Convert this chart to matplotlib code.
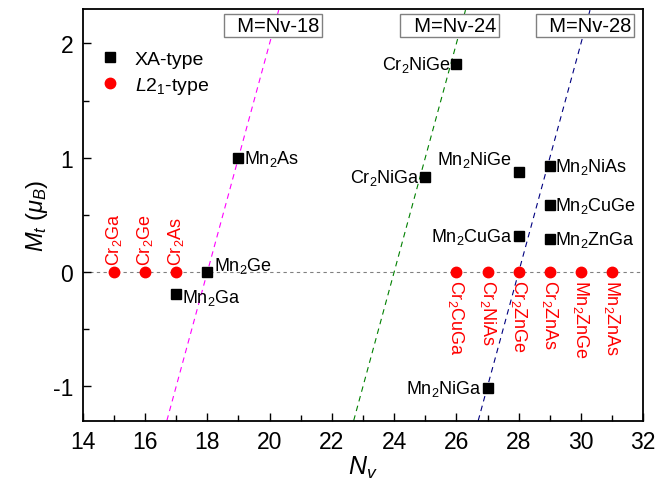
import matplotlib
matplotlib.use('Agg')
import matplotlib.pyplot as plt
from matplotlib.ticker import MultipleLocator

plt.rcParams['font.family'] = ['Liberation Sans', 'DejaVu Sans']
plt.rcParams['mathtext.fontset'] = 'custom'
plt.rcParams['mathtext.rm'] = 'Liberation Sans'
plt.rcParams['mathtext.it'] = 'Liberation Sans:italic'
plt.rcParams['mathtext.bf'] = 'Liberation Sans:bold'
plt.rcParams['axes.unicode_minus'] = False

# XA-type compounds
xa_names = ['Mn$_2$Ga', 'Mn$_2$Ge', 'Mn$_2$As', 'Cr$_2$NiGa', 'Cr$_2$NiGe',
            'Mn$_2$NiGa', 'Mn$_2$NiGe', 'Mn$_2$CuGa', 'Mn$_2$NiAs',
            'Mn$_2$CuGe', 'Mn$_2$ZnGa']
xa_nv = [17, 18, 19, 25, 26, 27, 28, 28, 29, 29, 29]
xa_m = [-0.19, 0.0, 1.0, 0.83, 1.82, -1.01, 0.88, 0.32, 0.93, 0.59, 0.29]

# L21-type compounds (all zero moment)
l21_names = ['Cr$_2$Ga', 'Cr$_2$Ge', 'Cr$_2$As', 'Cr$_2$CuGa', 'Cr$_2$NiAs',
             'Cr$_2$ZnGe', 'Cr$_2$ZnAs', 'Mn$_2$ZnGe', 'Mn$_2$ZnAs']
l21_nv = [15, 16, 17, 26, 27, 28, 29, 30, 31]
l21_m = [0, 0, 0, 0, 0, 0, 0, 0, 0]

# Slater-Pauling type rules M = Nv - n
rule_n = [18, 24, 28]
rule_colors = ['#ff00ff', '#008000', '#000080']
rule_text_x = [21.6, 27.28, 31.62]   # right edge of the label boxes

fig = plt.figure(figsize=(6.57, 4.85), dpi=100)
ax = fig.add_axes([0.126, 0.1305, 0.853, 0.8485])

ymin, ymax = -1.3, 2.3
ax.axhline(0, color='gray', linestyle='--', linewidth=0.8, dashes=(3, 3), zorder=1)

for n, c, tx in zip(rule_n, rule_colors, rule_text_x):
    ax.plot([ymin + n, ymax + n], [ymin, ymax], color=c, linestyle='--',
            linewidth=0.8, dashes=(5, 4), zorder=1)
    ax.text(tx, 2.158, '  M=Nv-%d' % n, fontsize=14.5, ha='right', va='center',
            bbox=dict(boxstyle='square,pad=0.12', fc='white', ec='gray', lw=1))

ax.plot(xa_nv, xa_m, 's', color='black', markersize=7, label='XA-type', zorder=3)
ax.plot(l21_nv, l21_m, 'o', color='red', markersize=7.5, label='$\\mathit{L}$2$_1$-type',
        zorder=3)

# XA labels: offsets in points and alignment
xa_offsets = {
    'Mn$_2$Ga': (4, -2, 'left'),
    'Mn$_2$Ge': (5, 5, 'left'),
    'Mn$_2$As': (4, 0, 'left'),
    'Cr$_2$NiGa': (-4, 0, 'right'),
    'Cr$_2$NiGe': (-4, 0, 'right'),
    'Mn$_2$NiGa': (-4, 0, 'right'),
    'Mn$_2$NiGe': (-5, 9, 'right'),
    'Mn$_2$CuGa': (-4, 0, 'right'),
    'Mn$_2$NiAs': (4, 0, 'left'),
    'Mn$_2$CuGe': (4, 0, 'left'),
    'Mn$_2$ZnGa': (4, 0, 'left'),
}
for name, x, y in zip(xa_names, xa_nv, xa_m):
    dx, dy, ha = xa_offsets[name]
    ax.annotate(name, (x, y), xytext=(dx, dy), textcoords='offset points',
                ha=ha, va='center', fontsize=13)

for name, x, y in zip(l21_names, l21_nv, l21_m):
    if x < 20:
        ax.annotate(name, (x, y), xytext=(0, 5), textcoords='offset points',
                    rotation=90, ha='center', va='bottom', fontsize=13, color='red')
    else:
        ax.annotate(name, (x, y), xytext=(0, -5), textcoords='offset points',
                    rotation=270, ha='center', va='top', fontsize=13, color='red')

ax.set_xlim(14, 32)
ax.set_ylim(ymin, ymax)
ax.xaxis.set_major_locator(MultipleLocator(2))
ax.xaxis.set_minor_locator(MultipleLocator(1))
ax.yaxis.set_major_locator(MultipleLocator(1))
ax.yaxis.set_minor_locator(MultipleLocator(0.5))
ax.tick_params(which='both', direction='in', top=False, right=False, width=1,
               labelsize=16.5)
ax.tick_params(which='major', length=6, pad=7)
ax.tick_params(which='minor', length=4)
for s in ax.spines.values():
    s.set_linewidth(1.3)

ax.set_xlabel('$\\mathit{N}_{\\mathit{v}}$', fontsize=18, labelpad=0)
ax.set_ylabel('$\\mathit{M}_{\\mathit{t}}$ ($\\mathit{\\mu}_{\\mathit{B}}$)', fontsize=17,
              labelpad=2)

ax.legend(loc='upper left', frameon=False, fontsize=14, bbox_to_anchor=(0.0, 0.943),
          handlelength=1.0, handletextpad=0.77, borderaxespad=0.5, labelspacing=0.35)

fig.savefig('out.png', dpi=100)
